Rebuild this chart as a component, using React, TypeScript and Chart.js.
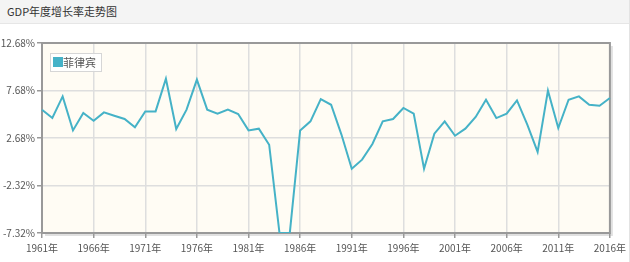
import React, { useEffect, useRef } from "react";
import { Chart, registerables } from "chart.js";

Chart.register(...registerables);

const years: string[] = [
  "1961年", "1962年", "1963年", "1964年", "1965年", "1966年", "1967年", "1968年", "1969年", "1970年",
  "1971年", "1972年", "1973年", "1974年", "1975年", "1976年", "1977年", "1978年", "1979年", "1980年",
  "1981年", "1982年", "1983年", "1984年", "1985年", "1986年", "1987年", "1988年", "1989年", "1990年",
  "1991年", "1992年", "1993年", "1994年", "1995年", "1996年", "1997年", "1998年", "1999年", "2000年",
  "2001年", "2002年", "2003年", "2004年", "2005年", "2006年", "2007年", "2008年", "2009年", "2010年",
  "2011年", "2012年", "2013年", "2014年", "2015年", "2016年",
];

const philippines: number[] = [
  5.66, 4.79, 7.06, 3.48, 5.31, 4.5, 5.38, 5.03, 4.68, 3.8,
  5.48, 5.48, 8.92, 3.63, 5.66, 8.82, 5.66, 5.24, 5.66, 5.21,
  3.48, 3.66, 1.97, -7.32, -7.31, 3.48, 4.43, 6.78, 6.18, 3.04,
  -0.55, 0.4, 2.05, 4.43, 4.68, 5.84, 5.24, -0.55, 3.13, 4.43,
  2.92, 3.66, 4.89, 6.71, 4.78, 5.24, 6.64, 4.08, 1.21, 7.66,
  3.73, 6.71, 7.06, 6.18, 6.08, 6.89,
];

const yTicks: number[] = [-7.32, -2.32, 2.68, 7.68, 12.68];

const seriesName = "菲律宾";
const titleText = "GDP年度增长率走势图";
const lineColor = "#45b2c7";
const labelFont = "'Liberation Sans Narrow', 'Noto Sans CJK SC', sans-serif";

const framePlugin = {
  id: "frame",
  beforeDraw(chart: any) {
    const { ctx, chartArea: a } = chart;
    ctx.save();
    ctx.fillStyle = "rgba(0,0,0,0.12)";
    ctx.fillRect(a.left + 3, a.top + 3, a.right - a.left, a.bottom - a.top);
    ctx.fillStyle = "#fffcf4";
    ctx.fillRect(a.left, a.top, a.right - a.left, a.bottom - a.top);
    ctx.restore();
  },
  beforeDatasetsDraw(chart: any) {
    const { ctx, chartArea: a } = chart;
    ctx.save();
    ctx.strokeStyle = "#999";
    ctx.lineWidth = 2;
    ctx.strokeRect(a.left, a.top, a.right - a.left, a.bottom - a.top);
    ctx.restore();
  },
  afterDraw(chart: any) {
    const { ctx, chartArea: a } = chart;
    const ds = chart.data.datasets[0];
    ctx.save();
    const x = a.left + 8;
    const y = a.top + 10;
    ctx.font = "11px " + labelFont;
    const tw = ctx.measureText(ds.label).width;
    const w = 14 + tw + 4;
    const h = 18;
    ctx.fillStyle = "rgba(255,255,255,0.85)";
    ctx.fillRect(x, y, w, h);
    ctx.strokeStyle = "#d6d6d6";
    ctx.lineWidth = 1;
    ctx.strokeRect(x + 0.5, y + 0.5, w, h);
    ctx.fillStyle = ds.borderColor;
    ctx.fillRect(x + 3, y + 4, 10, 10);
    ctx.fillStyle = "#555";
    ctx.textBaseline = "middle";
    ctx.fillText(ds.label, x + 13, y + h / 2 + 1);
    ctx.restore();
  },
};

function ChartView() {
  const ref = useRef<HTMLCanvasElement | null>(null);
  useEffect(() => {
    if (!ref.current) return;
    const chart = new Chart(ref.current, {
      type: "line",
      data: {
        labels: years,
        datasets: [
          {
            label: seriesName,
            data: philippines,
            borderColor: lineColor,
            backgroundColor: lineColor,
            borderWidth: 2,
            pointRadius: 0,
            tension: 0,
            fill: false,
          },
        ],
      },
      options: {
        animation: false,
        responsive: false,
        devicePixelRatio: 1,
        layout: { padding: { top: 43, right: 18, left: 0, bottom: 0 } },
        plugins: { legend: { display: false }, tooltip: { enabled: false } },
        scales: {
          x: {
            type: "category",
            offset: false,
            afterFit(scale: any) {
              scale.height = 29;
            },
            grid: {
              color: "#dedede",
              lineWidth: 1.5,
              tickLength: 5,
              tickColor: "#999",
            },
            border: { display: false },
            ticks: {
              autoSkip: false,
              maxRotation: 0,
              minRotation: 0,
              padding: 4,
              color: "#555",
              font: { family: labelFont, size: 10 },
              callback(_v: any, i: number) {
                return i % 5 === 0 ? years[i] : null;
              },
            },
          },
          y: {
            min: -7.32,
            max: 12.68,
            afterFit(scale: any) {
              scale.width = 42;
            },
            afterBuildTicks(scale: any) {
              scale.ticks = yTicks.map((v) => ({ value: v }));
            },
            grid: {
              color: "#dedede",
              lineWidth: 1.5,
              tickLength: 5,
              tickColor: "#999",
            },
            border: { display: false },
            ticks: {
              padding: 2,
              color: "#555",
              font: { family: labelFont, size: 10 },
              callback(v: any) {
                return Number(v).toFixed(2) + "%";
              },
            },
          },
        },
      },
      plugins: [framePlugin],
    } as any);
    return () => chart.destroy();
  }, []);
  return (
    <canvas
      ref={ref}
      width={630}
      height={262}
      style={{ position: "absolute", left: 0, top: 0, width: 630, height: 262 }}
    />
  );
}

export default function App() {
  useEffect(() => {
    document.body.style.margin = "0";
  }, []);
  return (
    <div style={{ position: "relative", width: 630, height: 262, background: "#fff", overflow: "hidden" }}>
      <div
        style={{
          position: "absolute",
          left: 0,
          top: 0,
          width: 629,
          height: 24,
          background: "#f4f4f4",
          borderBottom: "1px solid #e6e6e6",
          boxSizing: "border-box",
        }}
      >
        <span
          style={{
            position: "absolute",
            left: 7,
            top: 3,
            fontFamily: "'Noto Sans CJK SC', sans-serif",
            fontSize: 11,
            lineHeight: "16px",
            color: "#333",
          }}
        >
          {titleText}
        </span>
      </div>
      <div style={{ position: "absolute", left: 629, top: 0, width: 1, height: 262, background: "#e3e3e3" }} />
      <ChartView />
    </div>
  );
}
